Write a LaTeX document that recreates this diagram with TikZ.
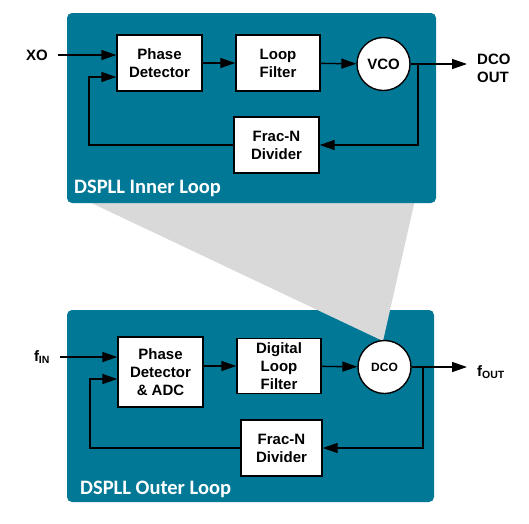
\documentclass[tikz,border=0pt]{standalone}
\usepackage{fontspec}
\setmainfont{Liberation Sans}
\newfontfamily\panelfont{Carlito}
\usetikzlibrary{arrows.meta}
\definecolor{loopteal}{RGB}{0,120,150}
\definecolor{conegray}{RGB}{217,217,217}
\begin{document}
\begin{tikzpicture}[x=1pt, y=-1pt,
                panel/.style = {fill=loopteal, rounded corners=5pt},
                block/.style = {draw, fill=white, line width=1.4pt, inner sep=1pt,
                    align=center, font=\fontsize{15}{18}\selectfont\bfseries},
                osc/.style = {draw, fill=white, circle, line width=1.4pt, inner sep=0pt,
                    minimum size=53pt, font=\fontsize{15}{18}\selectfont\bfseries},
                pin/.style = {font=\fontsize{15}{18}\selectfont\bfseries, inner sep=0pt},
                tag/.style = {anchor=west, text=white, inner sep=0pt,
                    font=\fontsize{20.5}{24}\selectfont\panelfont\bfseries},
                sig/.style = {line width=1.4pt, -{Triangle[length=15pt,width=10pt]}}
            ]
            \useasboundingbox (0,0) rectangle (529,523);
            % panels and the zoom cone
            \fill[panel] (67,310) rectangle (434,502);
            \fill[conegray] (85,200) -- (415,200) -- (383,341) -- cycle;
            \fill[panel] (67,13) rectangle (436,203);
            \node[tag] (inner) at (74,188) {DSPLL Inner Loop};
            \node[tag] (outer) at (80,489) {DSPLL Outer Loop};

            % inner loop
            \node[block, minimum width=85pt, minimum height=56pt] (pd1) at (159.5,63) {Phase\\Detector};
            \node[block, minimum width=84pt, minimum height=56pt] (lf1) at (278,63) {Loop\\Filter};
            \node[osc] (vco) at (383.5,64) {VCO};
            \node[block, minimum width=85pt, minimum height=56pt] (div1) at (276.5,145) {Frac-N\\Divider};
            \node[pin] (xo) at (37,55) {XO};
            \node[pin, anchor=west, align=left] (dcoout) at (477,68) {DCO\\OUT};
            \coordinate (tap1) at (418,64);
            \coordinate (ret1) at (89,77);
            \draw[sig, shorten <=10pt] (xo.east) -- (xo.east -| pd1.west);
            \draw[sig] (pd1) -- (lf1);
            \draw[sig] (lf1) -- (vco);
            \draw[sig] (vco.east) -- ([xshift=-10pt]dcoout.west |- vco.east);
            \draw[sig] (tap1) |- (div1);
            \draw[sig] (div1) -| (ret1) -- (ret1 -| pd1.west);

            % outer loop
            \node[block, minimum width=85pt, minimum height=70pt] (pd2) at (160.5,372) {Phase\\Detector\\\& ADC};
            \node[block, minimum width=84pt, minimum height=55pt] (lf2) at (279,366) {Digital\\Loop\\Filter};
            \node[osc, minimum size=53pt, font=\fontsize{12}{14}\selectfont\bfseries] (dco) at (384.5,367) {DCO};
            \node[block, minimum width=81pt, minimum height=56pt] (div2) at (281.5,448) {Frac-N\\Divider};
            \node[pin] (fin) at (42,357) {f\textsubscript{IN}};
            \node[pin, anchor=west] (fout) at (477,372) {f\textsubscript{OUT}};
            \coordinate (tap2) at (423,367);
            \coordinate (ret2) at (90,379);
            \draw[sig, shorten <=10pt] (fin.east) -- (fin.east -| pd2.west);
            \draw[sig] (pd2.east |- lf2) -- (lf2);
            \draw[sig] (lf2) -- (dco);
            \draw[sig] (dco.east) -- ([xshift=-10pt]fout.west |- dco.east);
            \draw[sig] (tap2) |- (div2);
            \draw[sig] (div2) -| (ret2) -- (ret2 -| pd2.west);
        \end{tikzpicture}
\end{document}
